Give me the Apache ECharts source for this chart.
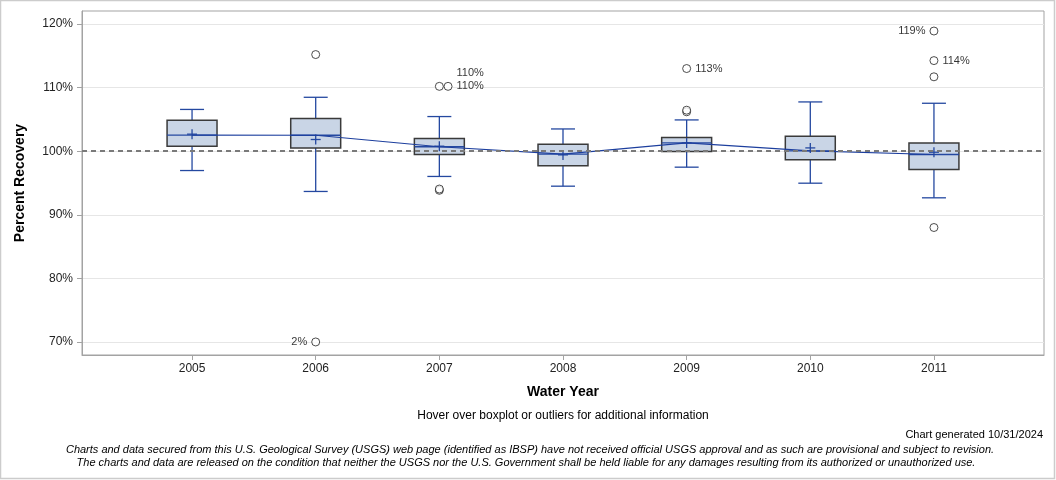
<!DOCTYPE html>
<html><head><meta charset="utf-8">
<script src="https://cdn.jsdelivr.net/npm/echarts@6/dist/echarts.min.js"></script>
<style>html,body{margin:0;padding:0;background:#fff}#c{width:1056px;height:480px}</style>
</head><body><div id="c"></div>
<script>
// ---- data ----
const years = [2005, 2006, 2007, 2008, 2009, 2010, 2011];
const whiskerLow  = [96.96, 93.67, 96.03, 94.50, 97.49, 94.97, 92.67];
const q1          = [100.79, 100.52, 99.48, 97.70, 99.95, 98.64, 97.12];
const median      = [102.52, 102.51, 100.70, 99.53, 101.30, 100.05, 99.48];
const q3          = [104.88, 105.14, 101.99, 101.10, 102.15, 102.36, 101.31];
const whiskerHigh = [106.57, 108.48, 105.45, 103.50, 104.92, 107.75, 107.54];
const mean        = [102.68, 101.84, 100.79, 99.42, 101.30, 100.52, 99.84];

const outlierYears  = [2006, 2006, 2007, 2007, 2007, 2007, 2009, 2009, 2009, 2011, 2011, 2011, 2011];
const outlierValues = [115.2, 70.0, 110.2, 110.2, 93.85, 94.05, 113.0, 106.2, 106.45, 118.9, 114.25, 111.7, 88.0];
const outlierLabels = ['', '2%', '110%', '110%', '', '', '113%', '', '', '119%', '114%', '', ''];

const yTicks = [70, 80, 90, 100, 110, 120];
const referenceValue = 100;

// ---- build ----
const FONT = '"Liberation Sans", Arial, Helvetica, sans-serif';
const boxData = years.map((y, i) => [y, whiskerLow[i], q1[i], median[i], q3[i], whiskerHigh[i], mean[i]]);

// label placement / jitter (style only)
const seen = {};
const outlierData = outlierYears.map((y, i) => {
  const key = y + '_' + outlierValues[i];
  const dup = seen[key] || 0; seen[key] = dup + 1;
  const item = { value: [y, outlierValues[i]], symbolOffset: [dup * 8.7, 0] };
  const lab = outlierLabels[i];
  if (lab) {
    let pos = 'right', off = [0, 0];
    if (lab === '2%' || lab === '119%') pos = 'left';
    if (y === 2007 && dup === 0) off = [8.7, -13];
    item.label = { show: true, formatter: lab, position: pos, distance: 4, offset: off,
      color: '#000', fontSize: 11, fontFamily: FONT };
  }
  return item;
});

const chart = echarts.init(document.getElementById('c'), null, { renderer: 'canvas' });
const BLUE = '#2448a0';
chart.setOption({
  animation: false,
  backgroundColor: '#fff',
  grid: { left: 82, right: 12, top: 11, bottom: 125, show: true, borderColor: '#a3a3a3', borderWidth: 1, containLabel: false },
  xAxis: {
    type: 'value', min: 2004.11, max: 2011.89,
    axisLine: { show: true, lineStyle: { color: '#a3a3a3' } },
    axisTick: { show: true, length: 5, lineStyle: { color: '#a3a3a3' }, customValues: years },
    axisLabel: { customValues: years, color: '#222', fontSize: 12, fontFamily: FONT, margin: 8, formatter: v => String(v) },
    splitLine: { show: false }
  },
  yAxis: {
    type: 'value', min: 67.95, max: 122.05,
    axisLine: { show: true, lineStyle: { color: '#a3a3a3' } },
    axisTick: { show: true, length: 5, lineStyle: { color: '#a3a3a3' }, customValues: yTicks },
    axisLabel: { customValues: yTicks, color: '#222', fontSize: 12, fontFamily: FONT, margin: 9, formatter: v => v + '%' },
    splitLine: { show: true, lineStyle: { color: '#e6e6e6', width: 1 } }
  },
  series: [
    {
      type: 'line', name: 'reference', z: 1, data: [], symbol: 'none',
      markLine: {
        silent: true, symbol: 'none', label: { show: false },
        lineStyle: { color: '#7a7a7a', type: [5, 4], width: 2 },
        data: [{ yAxis: referenceValue }]
      }
    },
    {
      type: 'custom', name: 'box', data: boxData, z: 2,
      renderItem: function (params, api) {
        const x = api.value(0);
        const pLow = api.coord([x, api.value(1)]);
        const pQ1 = api.coord([x, api.value(2)]);
        const pMed = api.coord([x, api.value(3)]);
        const pQ3 = api.coord([x, api.value(4)]);
        const pHigh = api.coord([x, api.value(5)]);
        const pMean = api.coord([x, api.value(6)]);
        const bw = api.size([0.404, 0])[0];
        const cw = api.size([0.194, 0])[0];
        const cx = pMed[0];
        const ws = { stroke: BLUE, lineWidth: 1.3 };
        return {
          type: 'group',
          children: [
            { type: 'line', shape: { x1: cx, y1: pLow[1], x2: cx, y2: pQ1[1] }, style: ws },
            { type: 'line', shape: { x1: cx, y1: pQ3[1], x2: cx, y2: pHigh[1] }, style: ws },
            { type: 'line', shape: { x1: cx - cw / 2, y1: pLow[1], x2: cx + cw / 2, y2: pLow[1] }, style: ws },
            { type: 'line', shape: { x1: cx - cw / 2, y1: pHigh[1], x2: cx + cw / 2, y2: pHigh[1] }, style: ws },
            { type: 'rect', shape: { x: cx - bw / 2, y: pQ3[1], width: bw, height: pQ1[1] - pQ3[1] },
              style: { fill: '#c9d5e6', stroke: '#3a3a3a', lineWidth: 1.5 } },
            { type: 'line', shape: { x1: cx - bw / 2, y1: pMed[1], x2: cx + bw / 2, y2: pMed[1] }, style: ws },
            { type: 'line', shape: { x1: cx - 5, y1: pMean[1], x2: cx + 5, y2: pMean[1] }, style: ws },
            { type: 'line', shape: { x1: cx, y1: pMean[1] - 5, x2: cx, y2: pMean[1] + 5 }, style: ws }
          ]
        };
      }
    },
    {
      type: 'line', name: 'median', z: 3,
      data: years.map((y, i) => [y, median[i]]),
      symbol: 'none', lineStyle: { color: '#1d3f9e', width: 1.2 }
    },
    {
      type: 'scatter', name: 'outliers', z: 4,
      data: outlierData,
      symbol: 'circle', symbolSize: 8,
      itemStyle: { color: '#fff', borderColor: '#222', borderWidth: 1 }
    }
  ],
  graphic: [
    { type: 'rect', shape: { x: 0.5, y: 0.5, width: 1054, height: 478 }, style: { fill: 'none', stroke: '#cccccc', lineWidth: 1.5 }, silent: true },
    { type: 'text', x: 20, y: 183, rotation: Math.PI / 2, style: { text: 'Percent Recovery', font: 'bold 14px ' + FONT, fill: '#000', textAlign: 'center', textVerticalAlign: 'middle' } },
    { type: 'text', x: 563, y: 392, style: { text: 'Water Year', font: 'bold 14px ' + FONT, fill: '#000', textAlign: 'center', textVerticalAlign: 'middle' } },
    { type: 'text', x: 563, y: 416, style: { text: 'Hover over boxplot or outliers for additional information', font: '12px ' + FONT, fill: '#000', textAlign: 'center', textVerticalAlign: 'middle' } },
    { type: 'text', x: 1043, y: 435, style: { text: 'Chart generated 10/31/2024', font: '11px ' + FONT, fill: '#000', textAlign: 'right', textVerticalAlign: 'middle' } },
    { type: 'text', x: 530, y: 450, style: { text: 'Charts and data secured from this U.S. Geological Survey (USGS) web page (identified as IBSP) have not received official USGS approval and as such are provisional and subject to revision.', font: 'italic 11px ' + FONT, fill: '#000', textAlign: 'center', textVerticalAlign: 'middle' } },
    { type: 'text', x: 526, y: 463, style: { text: 'The charts and data are released on the condition that neither the USGS nor the U.S. Government shall be held liable for any damages resulting from its authorized or unauthorized use.', font: 'italic 11px ' + FONT, fill: '#000', textAlign: 'center', textVerticalAlign: 'middle' } }
  ]
});
</script>
</body></html>
